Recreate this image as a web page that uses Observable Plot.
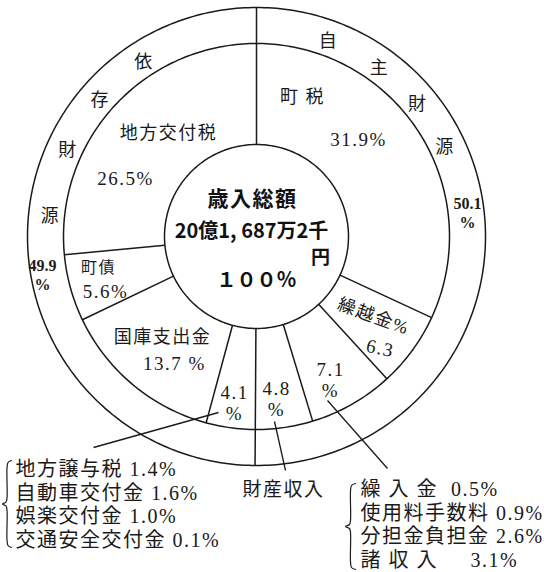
<!DOCTYPE html>
<html><head><meta charset="utf-8">
<script src="https://cdn.jsdelivr.net/npm/d3@7"></script>
<script src="https://cdn.jsdelivr.net/npm/@observablehq/plot@0.6"></script>
<style>
body{margin:0;background:#fff;}
</style></head>
<body><div id="chart"></div>
<script>
// ---- data ----
const innerCategories = ["町 税", "繰越金", "諸収入等", "財産収入", "地方譲与税等", "国庫支出金", "町債", "地方交付税"];
const innerValues = [31.9, 6.3, 7.1, 4.8, 4.1, 13.7, 5.6, 26.5];
const outerCategories = ["自主財源", "依存財源"];
const outerValues = [50.1, 49.9];
const izonDetailNames = ["地方譲与税", "自動車交付金", "娯楽交付金", "交通安全交付金"];
const izonDetailValues = [1.4, 1.6, 1.0, 0.1];
const jishuDetailNames = ["繰 入 金", "使用料手数料", "分担金負担金", "諸 収 入"];
const jishuDetailValues = [0.5, 0.9, 2.6, 3.1];
const totalTitle = "歳入総額";
const totalAmount = "20億1, 687万2千";
const totalUnit = "円";
const totalPercent = "１００％";

// ---- layout ----
const W = 544, H = 572, CX = 256, CY = 236;
const R_HOLE = 92, R_MID = 193, R_OUT = 229, R_OUTER_TEXT = 208;
const polar = (deg, r) => [r * Math.sin(deg * Math.PI / 180), -r * Math.cos(deg * Math.PI / 180)];
const cumStart = vals => { let c = 0; return vals.map(v => { const a = c / 100 * 360; c += v; return a; }); };

const innerStart = cumStart(innerValues);
const outerStart = cumStart(outerValues);

const circlePts = [R_HOLE, R_MID, R_OUT].flatMap(r =>
  d3.range(0, 361, 1).map(a => ({r, x: polar(a, r)[0], y: polar(a, r)[1]})));

const innerLabelLayout = [
  {name: [46, -139], value: [102, -98], fmt: v => `${v}%`},
  {name: [117, 80], value: [124, 111], fmt: v => `${v}`, suffix: "%", rotate: 20},
  {value: [74, 143], fmt: v => `${v}\n%`},
  {value: [20, 162], fmt: v => `${v}\n%`},
  {value: [-22, 166], fmt: v => `${v}\n%`},
  {name: [-94, 101], value: [-82, 126], fmt: v => `${v} %`},
  {name: [-158, 31], value: [-151, 54], fmt: v => `${v}%`, small: true},
  {name: [-88, -103], value: [-131, -59], fmt: v => `${v}%`}
];
const nameRows = innerCategories.map((c, i) => ({c, i, L: innerLabelLayout[i]})).filter(d => d.L.name)
  .map(d => ({text: d.c + (d.L.suffix || ""), x: d.L.name[0], y: d.L.name[1], rotate: d.L.rotate || 0, size: d.L.small ? 16 : 18}));
const valueRows = innerValues.map((v, i) => {
  const L = innerLabelLayout[i];
  return {text: L.fmt(v), x: L.value[0], y: L.value[1], rotate: L.rotate ? 12 : 0, size: L.small ? 16 : 19};
});

const outerCharAngles = [[20, 36, 50.5, 64.5], [327, 311, 294.5, 275.7]];
const outerChars = outerCategories.flatMap((c, i) => Array.from(c).map((ch, j) => {
  const [x, y] = polar(outerCharAngles[i][j], R_OUTER_TEXT);
  return {ch, x, y};
}));
const outerValuePos = [[211, -24], [-214, 38]];
const outerValueRows = outerValues.map((v, i) => ({text: `${v}\n%`, x: outerValuePos[i][0], y: outerValuePos[i][1]}));

const leaders = [
  {x1: -38, y1: 176, x2: -163, y2: 211},
  {x1: 18, y1: 185, x2: 29, y2: 234},
  {x1: 71, y1: 164, x2: 131, y2: 232}
];

const leftLegend = izonDetailNames.map((n, i) => ({text: `${n} ${izonDetailValues[i].toFixed(1)}%`, x: -241, y: 233 + i * 23.7}));
const rightGaps = [2, 1, 1, 5];
const rightLegend = jishuDetailNames.map((n, i) => ({text: `${n}${"\u00a0".repeat(rightGaps[i])}${jishuDetailValues[i].toFixed(1)}%`, x: 104, y: 253 + i * 23.7}));

const brace = (x0, x1, y0, y1, id) => {
  const xm = (x0 + x1) / 2, ym = (y0 + y1) / 2;
  return [[x1, y0], [xm + 1, y0 + 2], [xm, y0 + 8], [xm, ym - 6], [xm - 1, ym - 2], [x0, ym], [xm - 1, ym + 2], [xm, ym + 6], [xm, y1 - 8], [xm + 1, y1 - 2], [x1, y1]]
    .map(([x, y]) => ({x, y, id}));
};
const braces = [...brace(-254, -245, 224, 311, "L"), ...brace(89, 99, 247, 333, "R")];

const serif = "'Liberation Serif','DejaVu Serif','Noto Sans CJK JP',serif";
const sans = "'Noto Sans CJK JP','Noto Sans',sans-serif";
const ink = "#1a1a1a";

const chart = Plot.plot({
  width: W, height: H, margin: 0,
  x: {domain: [-CX, W - CX], range: [0, W], axis: null},
  y: {domain: [-CY, H - CY], range: [0, H], axis: null},
  style: {background: "#fff"},
  marks: [
    Plot.line(circlePts, {x: "x", y: "y", z: "r", stroke: ink, strokeWidth: 1.5}),
    Plot.link(innerStart, {
      x1: a => polar(a, R_HOLE)[0], y1: a => polar(a, R_HOLE)[1],
      x2: a => polar(a, R_MID)[0], y2: a => polar(a, R_MID)[1],
      stroke: ink, strokeWidth: 1.5}),
    Plot.link(outerStart, {
      x1: a => polar(a, R_MID)[0], y1: a => polar(a, R_MID)[1],
      x2: a => polar(a, R_OUT)[0], y2: a => polar(a, R_OUT)[1],
      stroke: ink, strokeWidth: 1.5}),
    Plot.link(leaders, {x1: "x1", y1: "y1", x2: "x2", y2: "y2", stroke: ink, strokeWidth: 1.3}),
    Plot.line(braces, {x: "x", y: "y", z: "id", curve: "catmull-rom", stroke: ink, strokeWidth: 1.2}),
    Plot.text(nameRows, {x: "x", y: "y", text: "text", rotate: "rotate", fontSize: d => d.size, fontFamily: serif, fill: ink, ariaDescription: "spaced"}),
    Plot.text(valueRows, {x: "x", y: "y", text: "text", rotate: "rotate", fontSize: 19, fontFamily: serif, fill: ink, lineHeight: 1.15, ariaDescription: "spaced"}),
    Plot.text(outerChars, {x: "x", y: "y", text: "ch", fontSize: 18, fontFamily: serif, fill: ink}),
    Plot.text(outerValueRows, {x: "x", y: "y", text: "text", fontSize: 16, fontWeight: "bold", fontFamily: serif, fill: ink, lineHeight: 1.15}),
    Plot.text([totalTitle], {x: -4, y: -37, text: d => d, fontSize: 21, fontWeight: "bold", fontFamily: sans, fill: "#111", ariaDescription: "spaced"}),
    Plot.text([totalAmount], {x: -5, y: -5, text: d => d, fontSize: 20, fontWeight: "bold", fontFamily: sans, fill: "#111"}),
    Plot.text([totalUnit], {x: 64, y: 21, text: d => d, fontSize: 19, fontWeight: "bold", fontFamily: sans, fill: "#111"}),
    Plot.text([totalPercent], {x: 0, y: 44, text: d => d, fontSize: 20, fontWeight: "bold", fontFamily: sans, fill: "#111"}),
    Plot.text(leftLegend, {x: "x", y: "y", text: "text", textAnchor: "start", fontSize: 20, fontFamily: serif, fill: ink, ariaDescription: "spaced"}),
    Plot.text([innerCategories[3]], {x: 27, y: 253, text: d => d, fontSize: 19, fontFamily: serif, fill: ink, ariaDescription: "spaced"}),
    Plot.text(rightLegend, {x: "x", y: "y", text: "text", textAnchor: "start", fontSize: 20, fontFamily: serif, fill: ink, ariaDescription: "spaced"})
  ]
});
d3.select(chart).selectAll('g[aria-description="spaced"] text').attr("letter-spacing", "1.5px");
document.getElementById("chart").appendChild(chart);
</script>
</body></html>
